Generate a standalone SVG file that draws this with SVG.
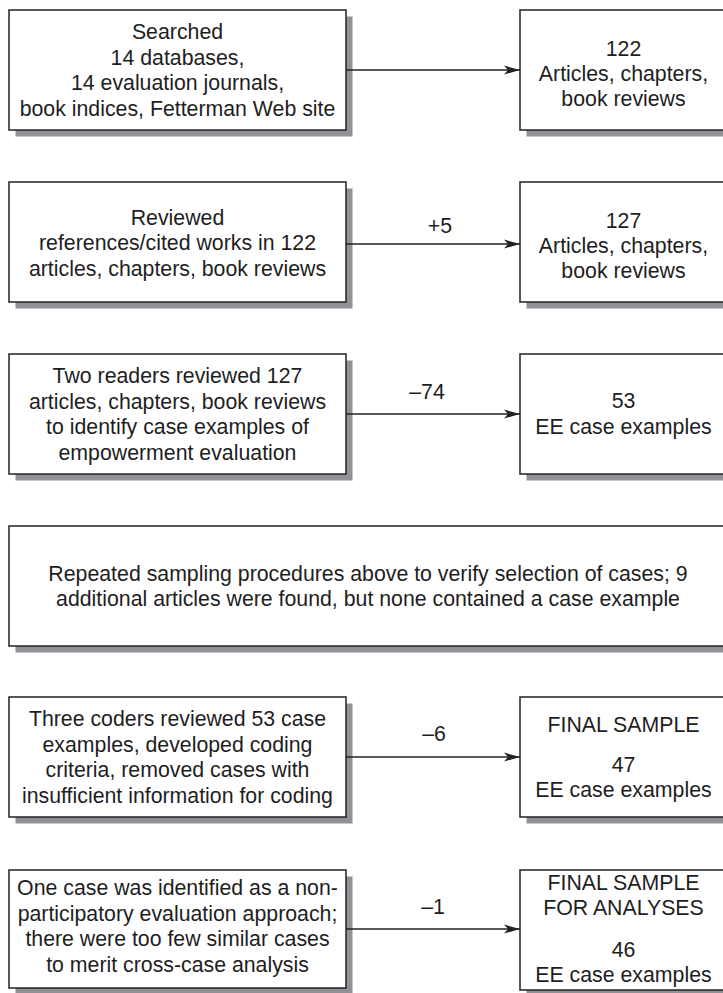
<svg xmlns="http://www.w3.org/2000/svg" width="723" height="993" viewBox="0 0 723 993">
<defs>
<style>
.sh{fill:#919295;stroke:none}
.bx{fill:#fff;stroke:#222;stroke-width:1.5}
.t{font-family:"Liberation Sans",Arial,Helvetica,sans-serif;font-size:21.3px;fill:#1e1e1e;text-anchor:middle}
.cn{stroke:#222;stroke-width:1.5;fill:none;marker-end:url(#ah)}
</style>
<marker id="ah" viewBox="0 0 16 10" markerWidth="16" markerHeight="10" refX="16" refY="5" orient="auto" markerUnits="userSpaceOnUse">
<path d="M0,0.5 L16,5 L0,9.5 L4,5 Z" fill="#222"/>
</marker>
</defs>
<rect width="723" height="993" fill="#fff"/>

<g id="n1">
<rect class="sh" x="15.5" y="16.5" width="337" height="120"/>
<rect class="bx" x="9" y="10" width="337" height="120"/>
<text class="t" x="177.5" y="39.4">Searched</text>
<text class="t" x="177.5" y="64.9">14 databases,</text>
<text class="t" x="177.5" y="90.4">14 evaluation journals,</text>
<text class="t" x="177.5" y="115.9">book indices, Fetterman Web site</text>
</g>
<g id="n2">
<rect class="sh" x="526.5" y="16.5" width="207" height="120"/>
<rect class="bx" x="520" y="10" width="207" height="120"/>
<text class="t" x="623.5" y="56">122</text>
<text class="t" x="623.5" y="81">Articles, chapters,</text>
<text class="t" x="623.5" y="106">book reviews</text>
</g>

<g id="n3">
<rect class="sh" x="15.5" y="188.5" width="337" height="120"/>
<rect class="bx" x="9" y="182" width="337" height="120"/>
<text class="t" x="177.5" y="224.6">Reviewed</text>
<text class="t" x="177.5" y="250.1">references/cited works in 122</text>
<text class="t" x="177.5" y="275.6">articles, chapters, book reviews</text>
</g>
<g id="n4">
<rect class="sh" x="526.5" y="188.5" width="207" height="120"/>
<rect class="bx" x="520" y="182" width="207" height="120"/>
<text class="t" x="623.5" y="228">127</text>
<text class="t" x="623.5" y="253">Articles, chapters,</text>
<text class="t" x="623.5" y="278">book reviews</text>
</g>

<g id="n5">
<rect class="sh" x="15.5" y="360.5" width="337" height="120"/>
<rect class="bx" x="9" y="354" width="337" height="120"/>
<text class="t" x="177.5" y="383.4">Two readers reviewed 127</text>
<text class="t" x="177.5" y="408.9">articles, chapters, book reviews</text>
<text class="t" x="177.5" y="434.4">to identify case examples of</text>
<text class="t" x="177.5" y="459.9">empowerment evaluation</text>
</g>
<g id="n6">
<rect class="sh" x="526.5" y="360.5" width="207" height="120"/>
<rect class="bx" x="520" y="354" width="207" height="120"/>
<text class="t" x="623.5" y="408">53</text>
<text class="t" x="623.5" y="434">EE case examples</text>
</g>

<g id="n7">
<rect class="sh" x="15.5" y="532.5" width="718" height="120"/>
<rect class="bx" x="9" y="526" width="718" height="120"/>
<text class="t" x="368" y="580.9">Repeated sampling procedures above to verify selection of cases; 9</text>
<text class="t" x="368" y="606.4">additional articles were found, but none contained a case example</text>
</g>

<g id="n8">
<rect class="sh" x="15.5" y="703.5" width="337" height="120"/>
<rect class="bx" x="9" y="697" width="337" height="120"/>
<text class="t" x="177.5" y="726.4">Three coders reviewed 53 case</text>
<text class="t" x="177.5" y="751.9">examples, developed coding</text>
<text class="t" x="177.5" y="777.4">criteria, removed cases with</text>
<text class="t" x="177.5" y="802.9">insufficient information for coding</text>
</g>
<g id="n9">
<rect class="sh" x="526.5" y="703.5" width="207" height="120"/>
<rect class="bx" x="520" y="697" width="207" height="120"/>
<text class="t" x="623.5" y="732">FINAL SAMPLE</text>
<text class="t" x="623.5" y="772">47</text>
<text class="t" x="623.5" y="797">EE case examples</text>
</g>

<g id="n10">
<rect class="sh" x="15.5" y="876.5" width="337" height="118"/>
<rect class="bx" x="9" y="870" width="337" height="118"/>
<text class="t" x="177.5" y="895">One case was identified as a non-</text>
<text class="t" x="177.5" y="920.5">participatory evaluation approach;</text>
<text class="t" x="177.5" y="946">there were too few similar cases</text>
<text class="t" x="177.5" y="971.5">to merit cross-case analysis</text>
</g>
<g id="n11">
<rect class="sh" x="526.5" y="876.5" width="207" height="120"/>
<rect class="bx" x="520" y="870" width="207" height="120"/>
<text class="t" x="623.5" y="890">FINAL SAMPLE</text>
<text class="t" x="623.5" y="915">FOR ANALYSES</text>
<text class="t" x="623.5" y="957">46</text>
<text class="t" x="623.5" y="982">EE case examples</text>
</g>

<g id="connectors">
<line class="cn" x1="346" y1="70" x2="520" y2="70"/>
<line class="cn" x1="346" y1="244" x2="520" y2="244"/>
<text class="t" x="440" y="233">+5</text>
<line class="cn" x1="346" y1="414" x2="520" y2="414"/>
<text class="t" x="427" y="399">–74</text>
<line class="cn" x1="346" y1="757" x2="520" y2="757"/>
<text class="t" x="434" y="741">–6</text>
<line class="cn" x1="346" y1="929" x2="520" y2="929"/>
<text class="t" x="433" y="914">–1</text>
</g>
</svg>
